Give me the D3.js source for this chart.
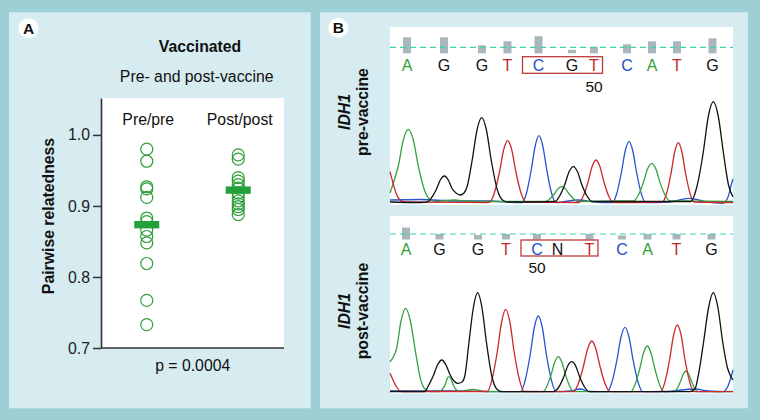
<!DOCTYPE html>
<html><head><meta charset="utf-8">
<script src="https://cdn.jsdelivr.net/npm/d3@7"></script>
<style>
body{margin:0;background:#9dd0d5}
svg{display:block}
text{font-family:"Liberation Sans",Arial,Helvetica,sans-serif}
</style>
</head><body>
<svg id="c" width="760" height="420"></svg>
<script>
// ---------- Panel A data ----------
const groups = ["Pre/pre", "Post/post"];
const prePre = [0.980, 0.963, 0.927, 0.924, 0.912, 0.883, 0.878, 0.866, 0.857, 0.848, 0.819, 0.767, 0.733];
const postPost = [0.972, 0.966, 0.940, 0.935, 0.930, 0.925, 0.918, 0.912, 0.907, 0.903, 0.899, 0.895, 0.888];
const yTicks = [0.7, 0.8, 0.9, 1.0];
const titleA = "Vaccinated";
const subtitleA = "Pre- and post-vaccine";
const yTitle = "Pairwise relatedness";
const pLabel = "p = 0.0004";

// ---------- Panel B data ----------
const preSeq  = ["A","G","G","T","C","G","T","C","A","T","G"];
const preScan = [17, 54, 92, 117.5, 148.5, 182, 204, 237, 262, 287, 322.5];
const preQual = [16, 16, 8, 12, 17, 3.5, 6.5, 9, 12, 12, 15];
const postSeq  = ["A","G","G","T","C","N","T","C","A","T","G"];
const postScan = [16, 49.5, 88, 116, 147, 167.5, 199.5, 232, 257.5, 286.5, 321.5];
const postQual = [12, 5.5, 4.5, 5.5, 5.5, 0, 5.5, 4, 5.5, 5.5, 5.5];
const boxedBases = [4, 6];
const preMarkIndex = 6, postMarkIndex = 4, markLabel = "50";

// traces: [scan, intensity]
const preA = [[0,10],[4,22],[8.3,37],[13.3,63],[18.3,73.7],[23.3,63],[28.3,37],[34.8,12],[40,3.5],[46,1.5],[55,2.5],[65,3],[75,2],[85,1.5],
  [155.2,1.5],[159.3,3.7],[164.2,9],[168,14.2],[171.7,16.3],[175.4,14.2],[179.2,9],[184.1,3.7],[188.2,1.5],
  [243.4,2],[248,7.2],[253.4,20.6],[257.5,34],[261.7,39.7],[265.9,34],[270,20.6],[275.4,7.2],[280,2],[343,1.5]];
const preG = [[0,1],[30,0.5],[36.7,0.8],[41,4.5],[46.3,13.5],[50.3,23],[54.3,27],[58.3,23],[62,14.5],[66,10],[70,8],[74,10],[77,16],
  [82.2,43],[87,73],[91.7,85.3],[96.4,73],[101.2,43],[107.4,13],[112.5,3],[118,1],
  [165,1.5],[169.3,6.5],[174.8,18.5],[179,31],[183.3,36.3],[187.6,31],[191.8,18.5],[197.3,6.5],[202,1.5],
  [301,1.5],[306.8,16],[313.3,51],[318.3,86.5],[323.3,101.3],[328.3,86.5],[333.3,51],[338.5,18],[343,6]];
const preT = [[0,31.3],[3,20],[6,10],[10,3],[14,1],[97,0.5],[99.7,0.8],[104.2,9.5],[109.5,31],[113.6,53],[117.7,62.3],[121.8,53],[125.9,31],[131.2,9.5],[135.7,1],
  [188.8,0.5],[193.1,6.5],[198.2,21.5],[202.1,36.5],[206,43],[209.9,36.5],[213.8,21.5],[218.9,6.5],[223.2,0.5],
  [272.5,1],[276.4,9],[281.1,30],[284.7,51],[288.3,60.3],[291.9,51],[295.5,30],[300.2,9],[304.1,1],[343,0.5]];
const preC = [[0,3],[30,3.5],[65,2],[100,2],[125,0.5],[132.3,0.5],[136.5,10],[141.4,34],[145.2,57],[149,67.3],[152.8,57],[156.6,34],[161.5,10],[165.7,0.5],
  [188,3],[205,1],[220,0.3],[222.5,0.3],[226.6,9],[231.5,31],[235.2,52],[239,61.3],[242.8,52],[246.5,31],[251.4,9],[255.5,0.3],
  [280,1],[298.3,4.7],[318,1],[333.3,0],[338,6],[341.7,19.7],[343,24]];

const postA = [[0,30.3],[3.3,35],[6.7,44],[11,71],[15.7,83.7],[20.4,71],[25.2,42],[30.5,13],[35,3],[41,0.5],
  [50,0.5],[52,2.5],[55.5,8],[57,13],[59,15.3],[61,13],[62.8,8],[66,2.5],[69,0.5],[83,2.7],[95,0.5],
  [153,0.3],[156.8,5.5],[161.3,18],[164.8,30],[168.3,35.3],[171.8,30],[175.3,18],[179.8,5.5],[183.6,0.3],
  [240.8,0.3],[244.9,7],[249.8,23.5],[253.5,39],[257.3,46],[261,39],[264.8,23.5],[269.7,7],[273.8,0.3],
  [284,0.3],[287,3.3],[290.5,10.5],[293.3,18],[296,21],[298.7,18],[301.5,10.5],[305,3.3],[308,0.3],[343,0.5]];
const postG = [[0,0.5],[30,0.3],[35,0.5],[37.7,5],[43.2,16],[47.5,27],[51.7,32],[56,27],[60.2,17],[64,11],[67.7,8.7],
  [72,10],[75,17],[79,50],[83.3,84],[87.7,99.3],[92,84],[96.4,50],[102,15],[106.8,3],[112,0.3],
  [163.3,0.3],[168.5,4.5],[173.7,15],[177.7,26],[181.7,30.3],[185.7,26],[189.7,15],[194.9,4.5],[199.3,0.3],
  [300,0.3],[305,3],[308,15],[313.6,50],[318.5,84],[323.3,99.3],[328,84],[332.7,50],[337.5,24],[341.7,14],[343,12]];
const postT = [[0,18.7],[3,12],[6,6],[11.7,0.5],[97.4,0.5],[102,12.5],[107.4,41],[111.6,70],[115.7,82.7],[119.9,70],[124,41],[129.4,12.5],[134,0.5],
  [183.4,0.3],[188,7.5],[193.4,25.5],[197.6,43],[201.7,51],[205.9,43],[210,25.5],[215.4,7.5],[220,0.3],
  [270.8,0.3],[274.9,10],[279.8,33.5],[283.6,57],[287.3,67],[291.1,57],[294.8,33.5],[299.7,10],[303.8,0.3],[343,0.3]];
const postC = [[0,1],[60,1],[120,0.3],[130.7,0.3],[135.1,11.5],[140.3,38],[144.3,64.5],[148.3,76],[152.3,64.5],[156.3,38],[161.5,11.5],[165.9,0.3],
  [180,1],[190,3],[200,0.5],[217.4,0.3],[221.8,9.5],[227,32.5],[231,55],[235,64.7],[239,55],[243,32.5],[248.2,9.5],[252.6,0.3],
  [275,0.5],[305,3],[318,1],[333,0.3],[338,6],[343,22]];

const geneName = "IDH1";
const preLabel = "pre-vaccine", postLabel = "post-vaccine";

// ---------- styles ----------
const green = "#2f9f3c", panelBg = "#d6ecf0";
const baseColor = {A:"#2f9f3c", G:"#111111", T:"#c0272d", C:"#2150c8", N:"#111111"};
const traceColor = {A:"#34a241", G:"#111111", T:"#c8282e", C:"#2555d0"};

const svg = d3.select("#c");
svg.append("rect").attr("width",760).attr("height",420).attr("fill","#9dd0d5");
svg.append("rect").attr("x",9).attr("y",12.3).attr("width",301.7).attr("height",396).attr("fill",panelBg);
svg.append("rect").attr("x",320).attr("y",12.3).attr("width",428).attr("height",396).attr("fill",panelBg);

function panelLetter(cx, cy, t){
  svg.append("circle").attr("cx",cx).attr("cy",cy).attr("r",10).attr("fill","#fff");
  svg.append("text").attr("x",cx).attr("y",cy+5.5).attr("text-anchor","middle")
    .attr("font-weight","bold").attr("font-size",15.5).attr("fill","#111").text(t);
}
panelLetter(28.5, 28.3, "A");
panelLetter(338.3, 27.7, "B");

// ---------- Panel A ----------
const plotL = 101, plotR = 284, plotT = 98, plotB = 348;
const y = d3.scaleLinear().domain([0.7, 1.052]).range([plotB, plotT]);
const x = d3.scalePoint().domain(groups).range([plotL, plotR]).padding(0.5);

svg.append("rect").attr("x",plotL).attr("y",plotT).attr("width",plotR-plotL).attr("height",plotB-plotT).attr("fill","#fff");

svg.append("text").attr("x",200).attr("y",52.3).attr("text-anchor","middle")
  .attr("font-weight","bold").attr("font-size",15.8).attr("fill","#111").text(titleA);
svg.append("text").attr("x",196.7).attr("y",81.5).attr("text-anchor","middle")
  .attr("font-size",15.8).attr("fill","#111").text(subtitleA);

const yAxis = svg.append("g").attr("transform",`translate(${plotL},0)`)
  .call(d3.axisLeft(y).tickValues(yTicks).tickFormat(d3.format(".1f")).tickSize(8).tickSizeOuter(0).tickPadding(3));
yAxis.select(".domain").attr("stroke","#333").attr("stroke-width",1.6);
yAxis.selectAll(".tick line").attr("stroke","#333").attr("stroke-width",1.5);
yAxis.selectAll(".tick text").attr("font-size",15.8).attr("fill","#222")
  .style("font-family",'"Liberation Sans",Arial,sans-serif');
svg.append("line").attr("x1",plotL).attr("x2",plotR).attr("y1",y(0.7)).attr("y2",y(0.7))
  .attr("stroke","#333").attr("stroke-width",1.6);

svg.append("text").attr("transform",`translate(54,216) rotate(-90)`).attr("text-anchor","middle")
  .attr("font-weight","bold").attr("font-size",15.8).attr("fill","#111").text(yTitle);

svg.selectAll("text.cat").data(groups).enter().append("text").attr("class","cat")
  .attr("x",d=>x(d)+1.5).attr("y",125).attr("text-anchor","middle")
  .attr("font-size",15.8).attr("fill","#111").text(d=>d);

const series = [prePre, postPost];
series.forEach((vals, i) => {
  const g = groups[i];
  svg.append("g").selectAll("circle").data(vals).enter().append("circle")
    .attr("cx", x(g)).attr("cy", d=>y(d)).attr("r", 6)
    .attr("fill","none").attr("stroke",green).attr("stroke-width",1.2);
  const m = d3.mean(vals);
  svg.append("rect").attr("x",x(g)-12.5).attr("y",y(m)-3.7).attr("width",25).attr("height",7.4)
    .attr("fill","#24a03a");
});

svg.append("text").attr("x",192.7).attr("y",371).attr("text-anchor","middle")
  .attr("font-size",15.8).attr("fill","#111").text(pLabel);

// ---------- Panel B ----------
const xb = d3.scaleLinear().domain([0, 343]).range([390, 733]);
const qual = d3.scaleLinear().domain([0, 20]).range([0, 20]);

function chromatogram(cfg){
  const yy = d3.scaleLinear().domain([0, 176]).range([cfg.base, cfg.base - 176]);
  svg.append("rect").attr("x",xb(0)).attr("y",cfg.frameTop).attr("width",xb(343)-xb(0))
    .attr("height",cfg.frameBottom-cfg.frameTop).attr("fill","#fff");
  svg.append("g").selectAll("rect").data(cfg.qual).enter().append("rect")
    .attr("x",(d,i)=>xb(cfg.scan[i])-4).attr("width",8)
    .attr("y",d=>cfg.qualBottom-qual(d)).attr("height",d=>qual(d)).attr("fill","#a9b6bb");
  svg.append("line").attr("x1",xb(0)).attr("x2",xb(343)).attr("y1",cfg.dashY).attr("y2",cfg.dashY)
    .attr("stroke","#3fd3a6").attr("stroke-width",1.2).attr("stroke-dasharray","6,4");
  svg.append("g").selectAll("text").data(cfg.seq).enter().append("text")
    .attr("x",(d,i)=>xb(cfg.scan[i])).attr("y",cfg.letterY).attr("text-anchor","middle")
    .attr("font-size",16).attr("fill",d=>baseColor[d]).text(d=>d);
  const bx0 = xb(cfg.scan[boxedBases[0]]) - 16, bx1 = xb(cfg.scan[boxedBases[1]]) + 8.5;
  svg.append("rect").attr("x",bx0).attr("y",cfg.boxTop).attr("width",bx1-bx0).attr("height",cfg.boxH)
    .attr("fill","none").attr("stroke","#c0393a").attr("stroke-width",1.3);
  svg.append("text").attr("x",xb(cfg.scan[cfg.mark])).attr("y",cfg.markY).attr("text-anchor","middle")
    .attr("font-size",15.5).attr("fill","#111").text(markLabel);
  const line = d3.line().x(d=>xb(d[0])).y(d=>yy(d[1])).curve(d3.curveMonotoneX);
  [["C",cfg.tr.C],["A",cfg.tr.A],["T",cfg.tr.T],["G",cfg.tr.G]].forEach(([b,pts])=>{
    svg.append("path").attr("d",line(pts)).attr("fill","none")
      .attr("stroke",traceColor[b]).attr("stroke-width",1.3);
  });
  svg.append("text").attr("transform",`translate(350,${cfg.labelY}) rotate(-90)`).attr("text-anchor","middle")
    .attr("font-weight","bold").attr("font-style","italic").attr("font-size",15.8).attr("fill","#111").text(geneName);
  svg.append("text").attr("transform",`translate(368,${cfg.labelY}) rotate(-90)`).attr("text-anchor","middle")
    .attr("font-weight","bold").attr("font-size",15.8).attr("fill","#111").text(cfg.label);
}

chromatogram({frameTop:27, frameBottom:205, base:203, seq:preSeq, scan:preScan, qual:preQual,
  qualBottom:53.3, dashY:47.3, letterY:70.5, boxTop:56.7, boxH:16.6, mark:preMarkIndex, markY:91.5,
  tr:{A:preA,G:preG,T:preT,C:preC}, label:preLabel, labelY:112});
chromatogram({frameTop:216, frameBottom:393.5, base:392, seq:postSeq, scan:postScan, qual:postQual,
  qualBottom:239.5, dashY:234, letterY:254.5, boxTop:240, boxH:16, mark:postMarkIndex, markY:273,
  tr:{A:postA,G:postG,T:postT,C:postC}, label:postLabel, labelY:311});
</script>
</body></html>
